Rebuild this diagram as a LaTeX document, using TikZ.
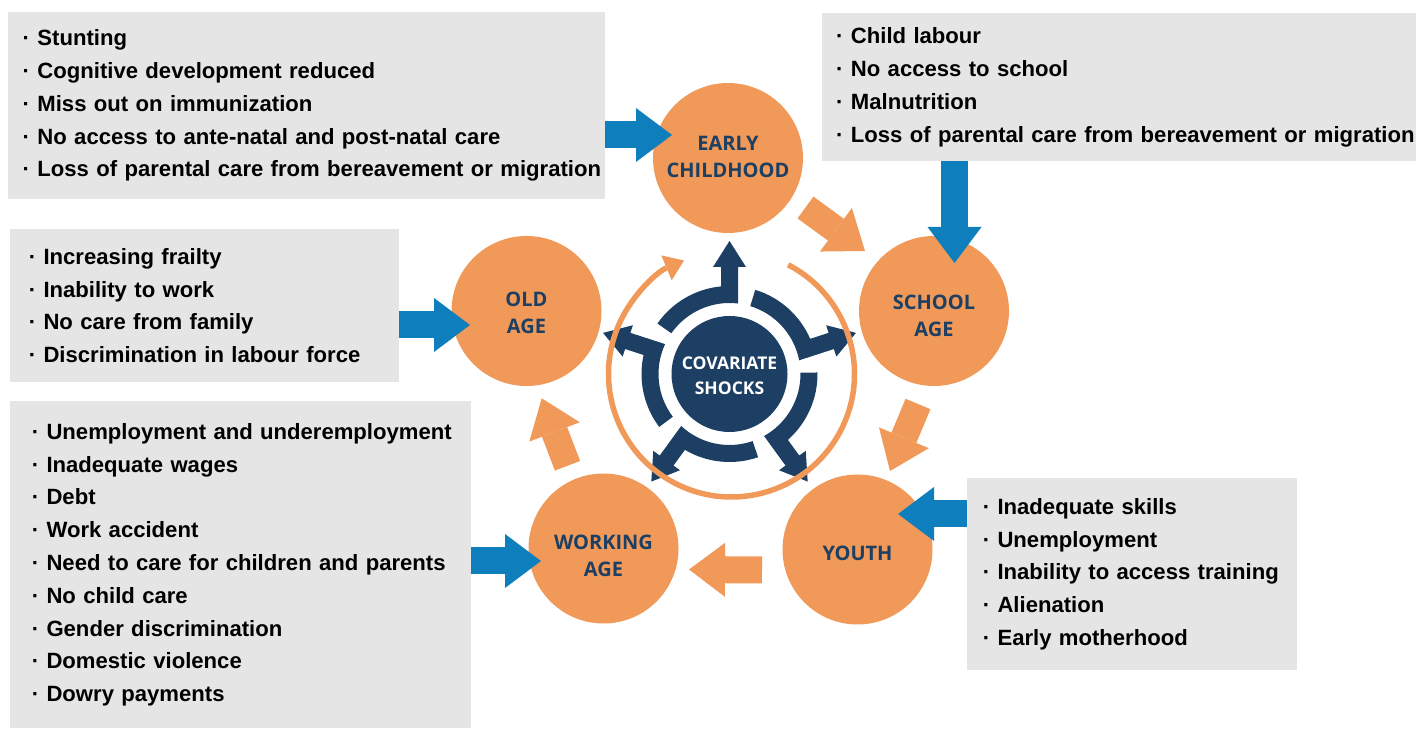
\documentclass[tikz,border=0pt]{standalone}
\usepackage{fontspec}
\setmainfont{Liberation Sans}
\newfontfamily\circfont{Open Sans}
\usetikzlibrary{arrows.meta,calc}
\definecolor{corange}{RGB}{240,153,88}
\definecolor{cdblue}{RGB}{28,63,99}
\definecolor{cblue}{RGB}{14,126,189}
\definecolor{cgray}{RGB}{229,229,229}
\newcommand{\B}[1]{\mbox{\hspace*{\ind}\textperiodcentered\ #1}}
\begin{document}
\begin{tikzpicture}[x=1pt,y=1pt,
  stage/.style={circle, fill=corange, minimum size=150pt, inner sep=0pt},
  stagetext/.style={text=cdblue, align=center, inner sep=0pt,
    font=\circfont\bfseries\fontsize{20}{27}\selectfont},
  shock/.style={circle, fill=cdblue, minimum size=116pt, inner sep=0pt},
  shocktext/.style={text=white, align=center, inner sep=0pt,
    font=\circfont\bfseries\fontsize{17.5}{25}\selectfont},
  infobox/.style 2 args={rectangle, fill=cgray, anchor=north west, inner xsep=0pt, inner ysep=0pt,
    text width=#1pt, minimum height=#2pt, align=left,
    font=\bfseries\fontsize{22.1}{32.8}\selectfont},
  barrow/.style={draw=cblue, line width=27pt, -{Triangle[width=54pt,length=36pt,line width=0pt]}},
  oarrow/.style={draw=corange, line width=27pt, -{Triangle[width=54pt,length=36pt,line width=0pt]}},
  oring/.style={draw=corange, line width=5.5pt, -{Triangle[width=27pt,length=19pt,line width=0pt]}},
  piece/.style={fill=cdblue}
]
\useasboundingbox (0,0) rectangle (1416,730);

% info boxes
\node[infobox={597}{187}] (b1) at (8,718) {\def\ind{14.5pt}%
\B{Stunting}\\ \B{Cognitive development reduced}\\ \B{Miss out on immunization}\\
\B{No access to ante-natal and post-natal care}\\ \B{Loss of parental care from bereavement or migration}};
\node[infobox={594}{148}] (b2) at (822,717) {\def\ind{14pt}%
\B{Child labour}\\ \B{No access to school}\\ \B{Malnutrition}\\
\B{Loss of parental care from bereavement or migration}};
\node[infobox={389}{153}] (b3) at (10,501) {\def\ind{18.6pt}%
\B{Increasing frailty}\\ \B{Inability to work}\\ \B{No care from family}\\ \B{Discrimination in labour force}};
\node[infobox={461}{327}] (b4) at (10,329) {\def\ind{21.6pt}%
\B{Unemployment and underemployment}\\ \B{Inadequate wages}\\ \B{Debt}\\ \B{Work accident}\\
\B{Need to care for children and parents}\\ \B{No child care}\\ \B{Gender discrimination}\\
\B{Domestic violence}\\ \B{Dowry payments}};
\node[infobox={330}{192}] (b5) at (967,252) {\def\ind{15.6pt}%
\B{Inadequate skills}\\ \B{Unemployment}\\ \B{Inability to access training}\\ \B{Alienation}\\ \B{Early motherhood}};

% stage circles
\node[stage, label={[stagetext, yshift=1.5pt]center:EARLY\\CHILDHOOD}] (ec) at (728,572) {};
\node[stage, label={[stagetext, yshift=-4.5pt]center:SCHOOL\\AGE}] (sa) at (934,419) {};
\node[stage, label={[stagetext, yshift=-4pt]center:YOUTH}] (yo) at (857.5,180.5) {};
\node[stage, label={[stagetext, yshift=-7.5pt]center:WORKING\\AGE}] (wa) at (603.5,181.5) {};
\node[stage, label={[stagetext, yshift=-2pt]center:OLD\\AGE}] (oa) at (526.5,419) {};

% covariate shocks
\node[shock, label={[shocktext, yshift=-2pt]center:COVARIATE\\SHOCKS}] (cs) at (729.5,356) {};
\begin{scope}[shift={(cs.center)}]
\foreach \a in {90,162,234,306,18}{
  \fill[piece, rotate=\a] (70.5,-8.5) -- (107,-8.5) -- (107,-16.5) -- (133,0) -- (107,16.5)
    -- (107,8.5) -- (87.6,8.5) arc[start angle=5.55, end angle=55, radius=88]
    -- (55:71) arc[start angle=55, end angle=-6.87, radius=71] -- cycle;
}
\end{scope}
\draw[oring] ($(cs.center)+(2,0)+(62.6:123)$) arc[start angle=62.6, end angle=-247.3, radius=123];

% orange arrows between stages
\draw[oarrow] ($(ec)+(77.5,-49.5)$) -- ($(sa)+(-69,60)$);
\draw[oarrow] ($(sa)+(-16,-93)$) -- ($(yo)+(32.5,78.5)$);
\draw[oarrow] ($(yo)+(-95.5,-20.5)$) -- ($(wa)+(85.5,-21)$);
\draw[oarrow] ($(wa)+(-36,82.7)$) -- ($(oa)+(15.2,-87.3)$);

% blue arrows from boxes
\coordinate (t1) at ($(ec)+(-56,23)$);
\coordinate (t2) at ($(sa)+(20.5,48)$);
\coordinate (t3) at ($(oa)+(-56.5,-14)$);
\coordinate (t4) at ($(wa)+(-62.5,-12.5)$);
\coordinate (t5) at ($(yo)+(40.5,35.5)$);
\draw[barrow] (b1.east |- t1) -- (t1);
\draw[barrow] (b2.south -| t2) -- (t2);
\draw[barrow] (b3.east |- t3) -- (t3);
\draw[barrow] (b4.east |- t4) -- (t4);
\draw[barrow] (b5.west |- t5) -- (t5);
\end{tikzpicture}
\end{document}
